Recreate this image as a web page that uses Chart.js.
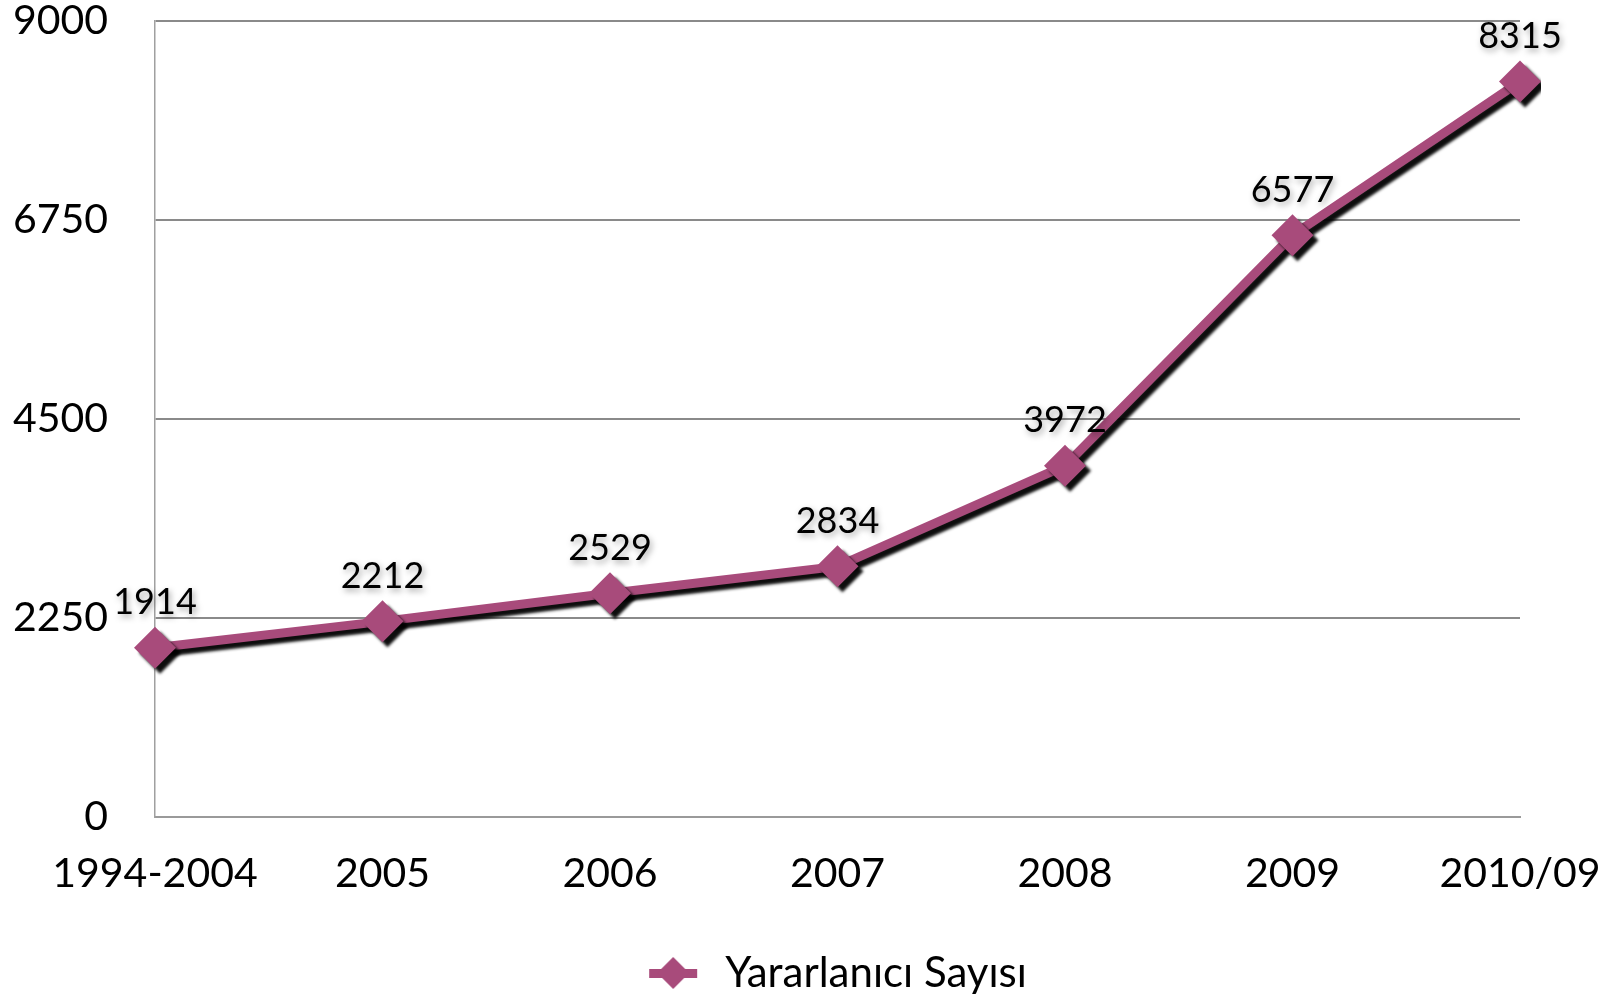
<!DOCTYPE html>
<html>
<head>
<meta charset="utf-8">
<script src="https://cdn.jsdelivr.net/npm/chart.js@4.4.1/dist/chart.umd.min.js"></script>
<style>
  html, body { margin: 0; padding: 0; background: #ffffff; overflow: hidden; }
  #wrap { width: 1612px; height: 1004px; position: relative; }
</style>
</head>
<body>
<div id="wrap"><canvas id="grafik"></canvas></div>
<script>
const yillar = ["1994-2004", "2005", "2006", "2007", "2008", "2009", "2010/09"];
const yararlanici = [1914, 2212, 2529, 2834, 3972, 6577, 8315];
const yTikler = [0, 2250, 4500, 6750, 9000];

const renk = "#a84b7b";
const yazi = "Lato, 'Open Sans', sans-serif";

// legend icon: short line with a diamond, drawn near the right end of a wide box
// (the empty left part pushes the legend item to the right, like the original)
const IKON_W = 211;
function legendIkonu() {
  const c = document.createElement("canvas");
  c.width = IKON_W;
  c.height = 40;
  const g = c.getContext("2d");
  const x0 = IKON_W - 55;
  g.fillStyle = renk;
  g.fillRect(x0, 16, 48, 9);
  g.beginPath();
  g.moveTo(x0 + 24, 4);
  g.lineTo(x0 + 40, 20);
  g.lineTo(x0 + 24, 36);
  g.lineTo(x0 + 8, 20);
  g.closePath();
  g.fill();
  return c;
}

const golgeEklentisi = {
  id: "golge",
  beforeDatasetsDraw(chart) {
    const ctx = chart.ctx;
    ctx.save();
    ctx.shadowColor = "rgba(0,0,0,0.95)";
    ctx.shadowBlur = 3;
    ctx.shadowOffsetX = 5;
    ctx.shadowOffsetY = 5;
  },
  afterDatasetsDraw(chart) {
    chart.ctx.restore();
  }
};

const etiketEklentisi = {
  id: "etiketler",
  afterDatasetsDraw(chart) {
    const ctx = chart.ctx;
    const meta = chart.getDatasetMeta(0);
    ctx.save();
    ctx.font = "36px " + yazi;
    ctx.fillStyle = "#000000";
    ctx.textAlign = "center";
    ctx.textBaseline = "middle";
    ctx.shadowColor = "rgba(0,0,0,0.35)";
    ctx.shadowBlur = 6;
    ctx.shadowOffsetX = 2;
    ctx.shadowOffsetY = 3;
    meta.data.forEach((nokta, i) => {
      ctx.fillText(String(yararlanici[i]), nokta.x, nokta.y - 45);
    });
    ctx.restore();
  }
};

new Chart(document.getElementById("grafik"), {
  type: "line",
  data: {
    labels: yillar,
    datasets: [{
      label: "Yararlanıcı Sayısı",
      data: yararlanici,
      borderColor: renk,
      backgroundColor: renk,
      borderWidth: 9,
      pointStyle: "rectRot",
      pointRadius: 21,
      pointBackgroundColor: renk,
      pointBorderWidth: 0,
      tension: 0,
      fill: false
    }]
  },
  options: {
    responsive: true,
    maintainAspectRatio: false,
    animation: false,
    devicePixelRatio: 1,
    layout: {
      padding: { left: 0, right: 92, top: 21, bottom: 0 }
    },
    plugins: {
      legend: {
        position: "bottom",
        labels: {
          usePointStyle: true,
          pointStyleWidth: IKON_W,
          generateLabels(chart) {
            return [{
              text: chart.data.datasets[0].label,
              pointStyle: legendIkonu(),
              fillStyle: renk,
              strokeStyle: renk,
              lineWidth: 0,
              datasetIndex: 0
            }];
          },
          color: "#000000",
          font: { size: 42, family: yazi },
          padding: 2
        }
      },
      tooltip: { enabled: false }
    },
    scales: {
      x: {
        offset: false,
        grid: { display: false, drawTicks: false },
        border: { display: true, color: "#9a9a9a", width: 2 },
        ticks: {
          color: "#000000",
          font: { size: 41, family: yazi },
          padding: 32,
          maxRotation: 0,
          autoSkip: false
        },
        afterFit(scale) {
          scale.height = 133;
          scale.paddingLeft = 0;
          scale.paddingRight = 0;
        }
      },
      y: {
        min: 0,
        max: 9000,
        afterBuildTicks(scale) {
          scale.ticks = yTikler.map(v => ({ value: v }));
        },
        grid: {
          color(c) { return c.tick.value === 0 ? "rgba(0,0,0,0)" : "#8a8a8a"; },
          lineWidth: 2,
          drawTicks: false
        },
        border: { display: true, color: "#a0a0a0", width: 1.5 },
        ticks: {
          color: "#000000",
          font: { size: 41, family: yazi },
          padding: 47,
          callback: v => String(v)
        },
        afterFit(scale) {
          scale.width = 155;
          scale.paddingTop = 0;
          scale.paddingBottom = 0;
        }
      }
    }
  },
  plugins: [golgeEklentisi, etiketEklentisi]
});
</script>
</body>
</html>
